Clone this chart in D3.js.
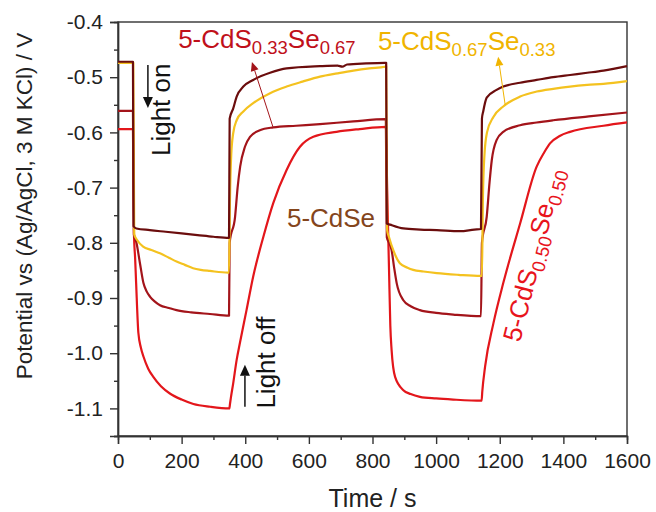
<!DOCTYPE html>
<html>
<head>
<meta charset="utf-8">
<script src="https://cdn.jsdelivr.net/npm/d3@7/dist/d3.min.js"></script>
<style>
  html, body { margin: 0; padding: 0; background: #fff; }
  svg { display: block; font-family: "Liberation Sans", Arial, sans-serif; }
</style>
</head>
<body>
<svg id="chart" width="656" height="512"></svg>
<script>
// Open-circuit potential transients under chopped illumination: [time (s), potential (V)]
const cdse = [
  [0,-0.472],[47,-0.472],[49,-0.770],[58,-0.774],[100,-0.777],[150,-0.780],[200,-0.783],
  [250,-0.786],[300,-0.789],[349,-0.791],[351,-0.575],[362,-0.557],[373,-0.535],[394,-0.517],
  [425,-0.505],[478,-0.492],[530,-0.484],[635,-0.480],[690,-0.479],[705,-0.481],[720,-0.477],
  [780,-0.475],[839,-0.474],[843,-0.474],[845,-0.765],[855,-0.767],[897,-0.774],[950,-0.776],
  [1002,-0.777],[1075,-0.779],[1120,-0.776],[1141,-0.775],[1144,-0.575],[1148,-0.562],
  [1159,-0.537],[1190,-0.523],[1211,-0.517],[1264,-0.510],[1316,-0.505],[1368,-0.500],
  [1421,-0.496],[1475,-0.492],[1526,-0.488],[1600,-0.480]
];
const cds067se033 = [
  [0,-0.474],[48,-0.474],[51,-0.785],[60,-0.795],[79,-0.807],[105,-0.813],[132,-0.819],
  [160,-0.827],[184,-0.834],[210,-0.840],[236,-0.846],[260,-0.849],[289,-0.851],[346,-0.854],
  [349,-0.854],[352,-0.720],[356,-0.640],[362,-0.602],[373,-0.578],[394,-0.562],[425,-0.547],
  [478,-0.529],[530,-0.517],[580,-0.508],[635,-0.499],[690,-0.493],[740,-0.488],[790,-0.484],
  [839,-0.481],[843,-0.480],[846,-0.777],[852,-0.790],[865,-0.813],[886,-0.837],[910,-0.845],
  [928,-0.849],[960,-0.852],[1002,-0.855],[1070,-0.858],[1140,-0.860],[1144,-0.860],
  [1147,-0.720],[1152,-0.640],[1160,-0.600],[1180,-0.572],[1211,-0.553],[1264,-0.535],
  [1316,-0.526],[1368,-0.521],[1421,-0.517],[1475,-0.514],[1526,-0.512],[1600,-0.507]
];
const cds033se067 = [
  [0,-0.561],[47,-0.561],[50,-0.785],[58,-0.800],[69,-0.837],[80,-0.873],[90,-0.888],
  [101,-0.898],[115,-0.906],[132,-0.913],[160,-0.918],[184,-0.922],[230,-0.926],[289,-0.929],
  [349,-0.932],[351,-0.800],[368,-0.753],[376,-0.700],[384,-0.662],[399,-0.626],[415,-0.608],
  [446,-0.596],[488,-0.591],[560,-0.588],[635,-0.585],[740,-0.580],[842,-0.576],[845,-0.790],
  [852,-0.800],[860,-0.813],[868,-0.845],[876,-0.873],[897,-0.904],[920,-0.915],[949,-0.922],
  [1000,-0.927],[1054,-0.930],[1141,-0.933],[1144,-0.800],[1159,-0.753],[1168,-0.690],
  [1175,-0.650],[1190,-0.614],[1211,-0.599],[1264,-0.587],[1316,-0.582],[1368,-0.578],
  [1480,-0.571],[1600,-0.564]
];
const cds050se050 = [
  [0,-0.594],[47,-0.594],[50,-0.780],[54,-0.830],[57,-0.873],[64,-0.963],[72,-0.990],
  [80,-1.006],[95,-1.028],[111,-1.043],[135,-1.060],[163,-1.073],[200,-1.084],[237,-1.092],
  [290,-1.097],[350,-1.100],[352,-1.092],[355,-1.080],[362,-1.055],[373,-1.012],[383,-0.982],
  [404,-0.922],[425,-0.861],[457,-0.789],[488,-0.728],[530,-0.668],[572,-0.626],[614,-0.608],
  [687,-0.599],[760,-0.594],[842,-0.590],[846,-0.700],[852,-0.850],[856,-0.950],[860,-0.994],
  [871,-1.043],[897,-1.067],[920,-1.074],[949,-1.079],[1000,-1.082],[1054,-1.084],[1143,-1.086],
  [1145,-1.070],[1154,-1.024],[1180,-0.946],[1211,-0.873],[1264,-0.765],[1316,-0.662],
  [1340,-0.636],[1358,-0.620],[1390,-0.606],[1421,-0.599],[1526,-0.588],[1600,-0.582]
];

const timeTicks = [0, 200, 400, 600, 800, 1000, 1200, 1400, 1600];
const timeMinorTicks = [100, 300, 500, 700, 900, 1100, 1300, 1500];
const potentialTicks = [-1.1, -1.0, -0.9, -0.8, -0.7, -0.6, -0.5, -0.4];
const potentialMinorTicks = [-1.15, -1.05, -0.95, -0.85, -0.75, -0.65, -0.55, -0.45];

const width = 656, height = 512;
const margin = { top: 22, right: 29, bottom: 76, left: 118 };

const svg = d3.select("#chart");
const x = d3.scaleLinear().domain([0, 1600]).range([margin.left, width - margin.right]);
const y = d3.scaleLinear().domain([-1.15, -0.4]).range([height - margin.bottom, margin.top]);

const axisColor = "#333";

// frame
svg.append("rect")
  .attr("x", x(0)).attr("y", y(-0.4))
  .attr("width", x(1600) - x(0)).attr("height", y(-1.15) - y(-0.4))
  .attr("fill", "none").attr("stroke", axisColor).attr("stroke-width", 1.4);

// axes
svg.append("g").attr("transform", `translate(0,${y(-1.15)})`)
  .call(d3.axisBottom(x).tickValues(timeTicks).tickSize(8).tickPadding(9).tickFormat(d3.format("d")));
svg.append("g").attr("transform", `translate(0,${y(-1.15)})`)
  .call(d3.axisBottom(x).tickValues(timeMinorTicks).tickSize(4).tickFormat(""));
svg.append("g").attr("transform", `translate(${x(0)},0)`)
  .call(d3.axisLeft(y).tickValues(potentialTicks).tickSize(8).tickPadding(7).tickFormat(d => d.toFixed(1)));
svg.append("g").attr("transform", `translate(${x(0)},0)`)
  .call(d3.axisLeft(y).tickValues(potentialMinorTicks).tickSize(4).tickFormat(""));

svg.selectAll(".domain").attr("stroke", axisColor).attr("stroke-width", 1.4);
svg.selectAll(".tick line").attr("stroke", axisColor).attr("stroke-width", 1.4);
svg.selectAll(".tick text").attr("font-size", 21).attr("fill", "#222")
  .attr("font-family", '"Liberation Sans", Arial, sans-serif');

// axis titles
svg.append("text")
  .attr("x", (x(0) + x(1600)) / 2).attr("y", 507)
  .attr("text-anchor", "middle").attr("font-size", 25).attr("fill", "#222")
  .text("Time / s");
svg.append("text")
  .attr("transform", `translate(32,206) rotate(-90)`)
  .attr("text-anchor", "middle").attr("font-size", 22.5).attr("fill", "#222")
  .text("Potential vs (Ag/AgCl, 3 M KCl) / V");

// transient curves
const line = d3.line().x(d => x(d[0])).y(d => y(d[1])).curve(d3.curveMonotoneX);
const series = [
  { data: cds050se050, color: "#e3161b" },
  { data: cds033se067, color: "#a3141a" },
  { data: cds067se033, color: "#f4c21f" },
  { data: cdse, color: "#6b0d0d" }
];
svg.append("g").selectAll("path").data(series).join("path")
  .attr("d", d => line(d.data))
  .attr("fill", "none")
  .attr("stroke", d => d.color)
  .attr("stroke-width", 2.2)
  .attr("stroke-linejoin", "round");

// arrow helper (shaft + filled triangular head), positions in data units
function arrow(t0, v0, t1, v1, color, w, headLen, headW) {
  const x0 = x(t0), y0 = y(v0), x1 = x(t1), y1 = y(v1);
  const dx = x1 - x0, dy = y1 - y0, L = Math.hypot(dx, dy);
  const ux = dx / L, uy = dy / L;
  const bx = x1 - ux * headLen, by = y1 - uy * headLen;
  svg.append("line").attr("x1", x0).attr("y1", y0).attr("x2", bx).attr("y2", by)
    .attr("stroke", color).attr("stroke-width", w);
  svg.append("path")
    .attr("d", `M${x1},${y1}L${bx - uy * headW / 2},${by + ux * headW / 2}L${bx + uy * headW / 2},${by - ux * headW / 2}Z`)
    .attr("fill", color);
}

// illumination annotations
arrow(94, -0.478, 94, -0.556, "#111", 1.5, 11, 10);
svg.append("text")
  .attr("transform", `translate(${x(163)},${y(-0.559)}) rotate(-90)`)
  .attr("text-anchor", "middle").attr("font-size", 26).attr("fill", "#111")
  .text("Light on");
arrow(399, -1.097, 399, -1.021, "#111", 1.5, 11, 10);
svg.append("text")
  .attr("transform", `translate(${x(492)},${y(-1.017)}) rotate(-90)`)
  .attr("text-anchor", "middle").attr("font-size", 26).attr("fill", "#111")
  .text("Light off");

// sample labels with subscripts
function formulaLabel(g, parts, color) {
  const t = g.append("text").attr("fill", color).attr("font-size", 26);
  parts.forEach(p => {
    t.append("tspan").text(p[0])
      .attr("font-size", p[1] ? 18.5 : 26)
      .attr("dy", p[1] ? 6 : (p[2] ? -6 : 0));
  });
  return t;
}

formulaLabel(svg.append("g").attr("transform", `translate(${x(189)},${y(-0.448)})`),
  [["5-CdS", false], ["0.33", true], ["Se", false, true], ["0.67", true]], "#c0101a");
arrow(487, -0.590, 421, -0.4725, "#a3141a", 1, 9, 8);

formulaLabel(svg.append("g").attr("transform", `translate(${x(817)},${y(-0.4507)})`),
  [["5-CdS", false], ["0.67", true], ["Se", false, true], ["0.33", true]], "#f0b400");
arrow(1217, -0.550, 1195, -0.463, "#f0b400", 1, 9, 8);

svg.append("text")
  .attr("x", x(531)).attr("y", y(-0.772))
  .attr("font-size", 26).attr("fill", "#84451c")
  .text("5-CdSe");

formulaLabel(svg.append("g").attr("transform", `translate(${x(1264)},${y(-0.9815)}) rotate(-76)`),
  [["5-CdS", false], ["0.50", true], ["Se", false, true], ["0.50", true]], "#e8141c");
</script>
</body>
</html>
